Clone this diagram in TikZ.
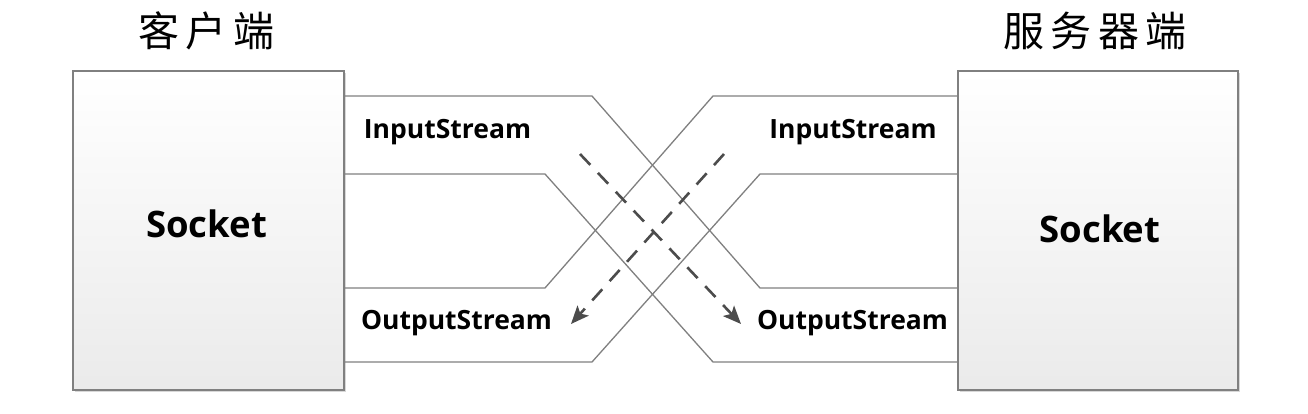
\documentclass[tikz,border=0pt]{standalone}
\usepackage{fontspec}
\setmainfont{Open Sans}
\newfontfamily\cjk[LetterSpace=16]{Noto Sans CJK SC}
\usetikzlibrary{arrows.meta,calc,shadows}

\begin{document}
\begin{tikzpicture}[x=1pt,y=-1pt,
  socket/.style={draw=black!50,line width=1.2pt,top color=white,bottom color=black!8,drop shadow={shadow xshift=2pt,shadow yshift=-2pt,opacity=0.3},minimum height=319pt,inner sep=0},
  sockettext/.style={font=\bfseries\fontsize{36.5}{40}\selectfont,inner sep=0,anchor=base},
  title/.style={font=\cjk\fontsize{41}{44}\selectfont,inner sep=0},
  stream/.style={font=\bfseries\fontsize{26.5}{28}\selectfont,inner sep=0,anchor=base},
  pipe/.style={draw=black!50,line width=1.3pt},
  flow/.style={draw=black!70,line width=2.6pt,dash pattern=on 15pt off 11pt,-{Stealth[length=18pt,width=15pt,inset=4pt]}}]

\path[fill=white] (0,0) rectangle (1308,414);

% Nodes
\node[socket,minimum width=271pt] (client) at (208.5,230.5) {};
\node[socket,minimum width=280pt] (server) at (1098,230.5) {};
\node[sockettext] (clientsock) at (206.5,237) {Socket};
\node[sockettext] (serversock) at (1100,242) {Socket};
\node[title] (clienttitle) at (206.5,31) {客户端};
\node[title] (servertitle) at (1095,31) {服务器端};
\node[stream] (clientin) at (447.5,139) {InputStream};
\node[stream] (clientout) at (456.5,329) {OutputStream};
\node[stream] (serverin) at (853,139) {InputStream};
\node[stream] (serverout) at (852.5,329) {OutputStream};

%pipes
\draw[pipe] (client.east |- 0,96) -- (592,96) -- (760,288) -- (server.west |- 0,288);
\draw[pipe] (client.east |- 0,174) -- (545,174) -- (713,362) -- (server.west |- 0,362);
\draw[pipe] (server.west |- 0,96) -- (713,96) -- (545,288) -- (client.east |- 0,288);
\draw[pipe] (server.west |- 0,174) -- (760,174) -- (592,362) -- (client.east |- 0,362);

%arrows
\coordinate (c2s) at (580,154);
\coordinate (c2e) at (741,324);
\coordinate (s2s) at (724,154);
\coordinate (s2e) at (571,324);
\path (c2s) edge[flow] (c2e);
\path (s2s) edge[flow] (s2e);

\end{tikzpicture}
\end{document}
